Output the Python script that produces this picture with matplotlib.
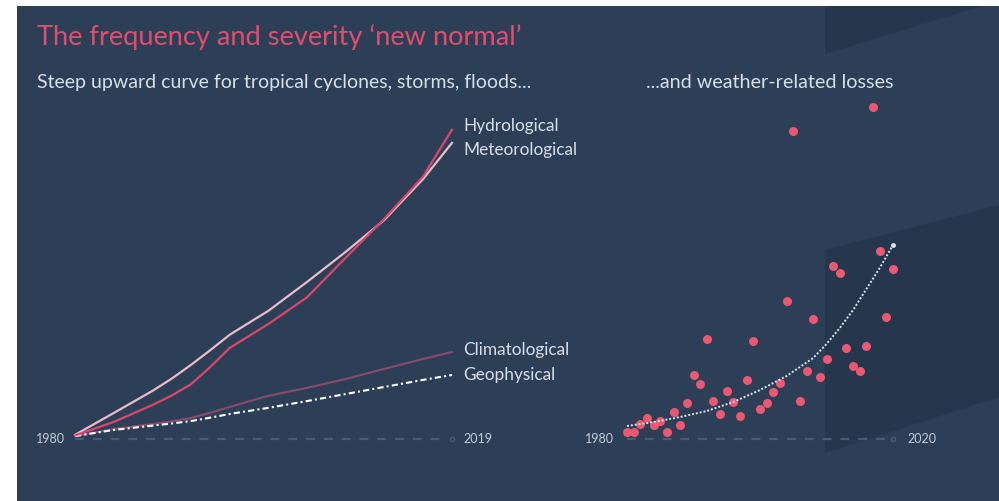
import matplotlib
matplotlib.use("Agg")
import matplotlib.pyplot as plt
from matplotlib.patches import Rectangle, Polygon

plt.rcParams['font.family'] = ['Lato', 'DejaVu Sans']

# cumulative number of loss events since 1980, by peril family
years_cum = [1980, 1984, 1988, 1990, 1992, 1994, 1996, 2000, 2004, 2008, 2012, 2016, 2019]
hydrological = [5, 49, 104, 135, 172, 228, 290, 368, 455, 584, 711, 848, 1001]
meteorological = [7, 78, 150, 190, 235, 283, 333, 411, 505, 603, 707, 840, 958]
climatological = [3, 26, 42, 51, 62, 79, 98, 134, 160, 189, 222, 254, 277]
geophysical = [3, 23, 37, 44, 52, 63, 75, 95, 117, 140, 163, 186, 202]

# weather-related losses per year (US$ bn)
loss_years = list(range(1980, 2021))
losses = [5, 5, 13, 19, 12, 16, 5, 25, 12, 34, 62, 53, 98, 36, 23, 46, 35, 21, 57, 96,
          28, 34, 45, 54, 136, 306, 36, 66, 118, 60, 78, 171, 164, 89, 71, 66, 91, 330,
          186, 120, 168]
trend_years = [1980, 1984, 1988, 1992, 1996, 2000, 2004, 2008, 2010, 2012, 2014, 2016,
               2018, 2020]
trend = [11, 15, 20, 26, 35, 47, 61, 79, 93, 109, 127, 148, 169, 192]

W, H = 999, 501
BG = '#2d3f57'
SHADE = '#25364d'
PINK = '#e04d6e'
TXT = '#d9dee6'
BASE = '#4a5c75'

fig = plt.figure(figsize=(W / 100, H / 100), dpi=100, facecolor='white')

# full-figure axes in pixel units for the backdrop and the text
bg = fig.add_axes([0, 0, 1, 1])
bg.set_xlim(0, W)
bg.set_ylim(H, 0)
bg.axis('off')
bg.add_patch(Rectangle((17, 6), W - 17, H - 6, color=BG, lw=0))
bg.add_patch(Polygon([(825, 6), (982, 6), (825, 54)], closed=True, color=SHADE, lw=0))
bg.add_patch(Polygon([(825, 250), (999, 205), (999, 397), (825, 453)], closed=True,
                     color=SHADE, lw=0))

bg.text(37, 37, "The frequency and severity \u2018new normal\u2019", color=PINK,
        fontsize=19.6, ha='left', va='center')
bg.text(37, 82, "Steep upward curve for tropical cyclones, storms, floods...", color=TXT,
        fontsize=14, ha='left', va='center')
bg.text(646, 82, "...and weather-related losses", color=TXT,
        fontsize=14.2, ha='left', va='center')

for label, y in [("Hydrological", 126), ("Meteorological", 150),
                 ("Climatological", 350), ("Geophysical", 375)]:
    bg.text(463, y, label, color=TXT, fontsize=12.4, ha='left', va='center')

for label, x, ha in [("1980", 65, 'right'), ("2019", 463, 'left'),
                     ("1980", 614, 'right'), ("2020", 907, 'left')]:
    bg.text(x, 439, label, color='#c5ccd6', fontsize=9, ha=ha, va='center')


def place(x0, x1, y_bottom, y_top):
    return fig.add_axes([x0 / W, (H - y_bottom) / H, (x1 - x0) / W, (y_bottom - y_top) / H])


# left panel: cumulative events
ax1 = place(75, 452, 437, 130)
ax1.set_xlim(1980, 2019)
ax1.set_ylim(0, 1000)
ax1.axis('off')
ax1.plot([1980, 2018.6], [-6.5, -6.5], color=BASE, lw=1.6, ls=(0, (4, 4)), clip_on=False)
ax1.plot([2019], [-6.5], marker='o', ms=3, mfc='none', mec=BASE, clip_on=False)
ax1.plot(years_cum, climatological, color='#8a4b6e', lw=1.5, clip_on=False)
ax1.plot(years_cum, geophysical, color='white', lw=1.5, ls=(0, (3, 1.5, 1, 1.5)),
         clip_on=False)
ax1.plot(years_cum, meteorological, color='#e6bccb', lw=1.6, clip_on=False)
ax1.plot(years_cum, hydrological, color='#d8476c', lw=1.6, clip_on=False)

# right panel: annual losses with trend
ax2 = place(627, 893, 437, 107)
ax2.set_xlim(1980, 2020)
ax2.set_ylim(0, 330)
ax2.axis('off')
ax2.plot([1980, 2019.6], [-2, -2], color=BASE, lw=1.6, ls=(0, (4, 4)), clip_on=False)
ax2.plot([2020], [-2], marker='o', ms=3, mfc='none', mec=BASE, clip_on=False)
ax2.scatter(loss_years, losses, s=42, color='#ea5872', lw=0, zorder=3, clip_on=False)
ax2.plot(trend_years, trend, color='#d5e6ee', lw=1.4, ls=(0, (1, 1)), zorder=4,
         clip_on=False)
ax2.plot([trend_years[-1]], [trend[-1]], marker='o', ms=2.5, color='#d5e6ee',
         clip_on=False, zorder=4)

fig.savefig('out.png', dpi=100, facecolor='white')
